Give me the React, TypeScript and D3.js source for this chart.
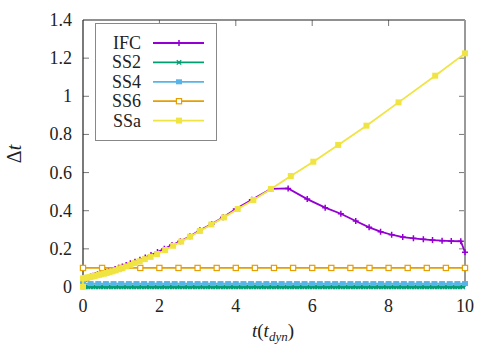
import React from "react";
import * as d3 from "d3";

// ---------- data ----------
const X_TICKS = [0, 2, 4, 6, 8, 10];
const Y_TICKS = [0, 0.2, 0.4, 0.6, 0.8, 1, 1.2, 1.4];

const IFC_T = [0, 0.005, 0.03, 0.06, 0.10, 0.15, 0.20, 0.26, 0.32, 0.38, 0.45, 0.52, 0.59, 0.67, 0.75, 0.84, 0.93, 1.03, 1.13, 1.24, 1.36, 1.49, 1.63, 1.78, 1.95, 2.13, 2.33, 2.55, 2.80, 3.06, 3.37, 3.67, 4.00, 4.42, 4.92, 5.37, 5.87, 6.34, 6.75, 7.14, 7.49, 7.79, 8.08, 8.37, 8.65, 8.91, 9.15, 9.40, 9.64, 9.89, 10];
const IFC_DT = [0.004, 0.030, 0.035, 0.040, 0.045, 0.050, 0.055, 0.059, 0.063, 0.067, 0.071, 0.075, 0.079, 0.084, 0.089, 0.095, 0.101, 0.108, 0.116, 0.124, 0.133, 0.143, 0.155, 0.168, 0.183, 0.200, 0.220, 0.240, 0.266, 0.298, 0.330, 0.366, 0.409, 0.458, 0.514, 0.517, 0.461, 0.416, 0.384, 0.346, 0.313, 0.290, 0.274, 0.262, 0.255, 0.250, 0.246, 0.243, 0.241, 0.240, 0.182];

const SSA_T = [0, 0.001, 0.046, 0.093, 0.142, 0.193, 0.246, 0.301, 0.359, 0.42, 0.484, 0.551, 0.621, 0.695, 0.773, 0.855, 0.942, 1.035, 1.135, 1.243, 1.36, 1.485, 1.62, 1.77, 1.94, 2.15, 2.36, 2.57, 2.80, 3.06, 3.36, 3.69, 4.05, 4.46, 4.92, 5.44, 6.03, 6.68, 7.42, 8.26, 9.22, 10];
const SSA_DT = [0.001, 0.045, 0.047, 0.049, 0.051, 0.053, 0.055, 0.058, 0.061, 0.064, 0.067, 0.070, 0.074, 0.078, 0.082, 0.087, 0.093, 0.100, 0.108, 0.116, 0.125, 0.135, 0.146, 0.158, 0.173, 0.194, 0.216, 0.238, 0.264, 0.294, 0.328, 0.365, 0.409, 0.456, 0.514, 0.582, 0.657, 0.745, 0.846, 0.968, 1.108, 1.225];

// fixed-step schemes: constant step size and the spacing of the plotted markers
const SS2_DT = 0.0005;
const SS4_DT = 0.018;
const SS6_DT = 0.1;
const SS2_MARK_EVERY = 0.0667;
const SS4_MARK_EVERY = 0.2;
const SS6_MARK_EVERY = 0.5;
const T_END = 10;

const SERIES_NAMES = ["IFC", "SS2", "SS4", "SS6", "SSa"];
const COLORS = ["#9400d3", "#009e73", "#56b4e9", "#e69f00", "#f0e442"];

// ---------- layout ----------
const W = 500, H = 350;
const X0 = 83, X1 = 465, Y0 = 287, Y1 = 20;
const FONT = "'Liberation Serif', 'DejaVu Serif', 'Times New Roman', Times, serif";
const TXT = { fontFamily: FONT };

type Pt = [number, number];

function Marker({ kind, x, y, color }: { kind: string; x: number; y: number; color: string }) {
  const s = 3;
  if (kind === "plus")
    return <path d={`M${x - s},${y}H${x + s}M${x},${y - s}V${y + s}`} stroke={color} strokeWidth={1.5} fill="none" />;
  if (kind === "cross")
    return <path d={`M${x - 2.2},${y - 2.2}L${x + 2.2},${y + 2.2}M${x - 2.2},${y + 2.2}L${x + 2.2},${y - 2.2}`} stroke={color} strokeWidth={1.3} fill="none" />;
  if (kind === "fsq")
    return <rect x={x - 3} y={y - 2.5} width={6} height={5} fill={color} />;
  if (kind === "osq")
    return <rect x={x - 2.6} y={y - 2.6} width={5.2} height={5.2} fill="white" stroke={color} strokeWidth={1.2} />;
  if (kind === "ysq")
    return <rect x={x - 3} y={y - 3} width={6} height={6} fill={color} />;
  return null;
}

export default function App() {
  const x = d3.scaleLinear().domain([0, 10]).range([X0, X1]);
  const y = d3.scaleLinear().domain([0, 1.4]).range([Y0, Y1]);
  const line = d3.line<Pt>().x((d) => x(d[0])).y((d) => y(d[1]));

  const ifc: Pt[] = IFC_T.map((t, i) => [t, IFC_DT[i]]);
  const ssa: Pt[] = SSA_T.map((t, i) => [t, SSA_DT[i]]);
  const constPts = (dt: number, every: number): Pt[] =>
    d3.range(0, T_END + 1e-9, every).map((t) => [t, dt] as Pt);
  const ss2m = constPts(SS2_DT, SS2_MARK_EVERY);
  const ss4m = constPts(SS4_DT, SS4_MARK_EVERY);
  const ss6m = constPts(SS6_DT, SS6_MARK_EVERY);

  const kinds = ["plus", "cross", "fsq", "osq", "ysq"];
  const legendRows = [43, 62.4, 81.8, 101.2, 120.6];

  return (
    <svg width={W} height={H} style={{ position: "absolute", left: 0, top: 0, background: "white" }}>
      {/* ticks */}
      {Y_TICKS.map((v) => (
        <g key={"yt" + v}>
          {v > 0 && v < 1.4 && <line x1={X0} x2={X0 + 6} y1={y(v)} y2={y(v)} stroke="#777" strokeWidth={1} />}
          {v > 0 && v < 1.4 && <line x1={X1 - 6} x2={X1} y1={y(v)} y2={y(v)} stroke="#777" strokeWidth={1} />}
          <text x={72} y={y(v) + 6} textAnchor="end" fontSize={18} fill="#222" style={TXT}>{String(v)}</text>
        </g>
      ))}
      {X_TICKS.map((v) => (
        <g key={"xt" + v}>
          {v > 0 && v < 10 && <line x1={x(v)} x2={x(v)} y1={Y1} y2={Y1 + 6} stroke="#777" strokeWidth={1} />}
          {v > 0 && v < 10 && <line x1={x(v)} x2={x(v)} y1={Y0} y2={Y0 - 6} stroke="#777" strokeWidth={1} />}
          <text x={x(v)} y={312} textAnchor="middle" fontSize={18} fill="#222" style={TXT}>{String(v)}</text>
        </g>
      ))}

      {/* frame */}
      <line x1={X0} x2={X1} y1={Y1} y2={Y1} stroke="#222" strokeWidth={1.2} />
      <line x1={X0} x2={X0} y1={Y1} y2={Y0} stroke="#222" strokeWidth={1.2} />
      <line x1={X0} x2={X1} y1={Y0} y2={Y0} stroke="#222" strokeWidth={1.2} />
      <line x1={X1} x2={X1} y1={Y1} y2={Y0} stroke="#999" strokeWidth={2} />

      {/* IFC */}
      <path d={line(ifc) || ""} fill="none" stroke={COLORS[0]} strokeWidth={1.8} />
      {ifc.map((p, i) => <Marker key={"i" + i} kind="plus" x={x(p[0])} y={y(p[1])} color={COLORS[0]} />)}

      {/* SS2 */}
      <path d={line([[0, SS2_DT], [T_END, SS2_DT]]) || ""} fill="none" stroke={COLORS[1]} strokeWidth={1.8} />
      {ss2m.map((p, i) => <Marker key={"a" + i} kind="cross" x={x(p[0])} y={y(p[1])} color={COLORS[1]} />)}

      {/* SS4 */}
      <path d={line([[0, SS4_DT], [T_END, SS4_DT]]) || ""} fill="none" stroke={COLORS[2]} strokeWidth={1.8} />
      {ss4m.map((p, i) => <Marker key={"b" + i} kind="fsq" x={x(p[0])} y={y(p[1])} color={COLORS[2]} />)}

      {/* SS6 */}
      <path d={line([[0, SS6_DT], [T_END, SS6_DT]]) || ""} fill="none" stroke={COLORS[3]} strokeWidth={1.8} />
      {ss6m.map((p, i) => <Marker key={"c" + i} kind="osq" x={x(p[0])} y={y(p[1])} color={COLORS[3]} />)}

      {/* SSa */}
      <path d={line(ssa) || ""} fill="none" stroke={COLORS[4]} strokeWidth={1.8} />
      {ssa.map((p, i) => <Marker key={"d" + i} kind="ysq" x={x(p[0])} y={y(p[1])} color={COLORS[4]} />)}

      {/* legend */}
      <rect x={95.5} y={23.5} width={121} height={117} fill="white" stroke="#888" strokeWidth={1} />
      {SERIES_NAMES.map((n, i) => (
        <g key={"l" + n}>
          <text x={141} y={legendRows[i] + 6} textAnchor="end" fontSize={18} fill="#222" style={TXT}>{n}</text>
          <line x1={153} x2={204} y1={legendRows[i]} y2={legendRows[i]} stroke={COLORS[i]} strokeWidth={1.8} />
          <Marker kind={kinds[i]} x={179} y={legendRows[i]} color={COLORS[i]} />
        </g>
      ))}

      {/* axis titles */}
      <text transform="translate(21,154) rotate(-90)" textAnchor="middle" fontSize={20} fill="#222" style={TXT}>
        <tspan>Δ</tspan><tspan fontStyle="italic">t</tspan>
      </text>
      <text x={273} y={337} textAnchor="middle" fontSize={19} fill="#222" style={TXT}>
        <tspan fontStyle="italic">t</tspan>
        <tspan>(</tspan>
        <tspan fontStyle="italic">t</tspan>
        <tspan fontStyle="italic" fontSize={13} dy={4}>dyn</tspan>
        <tspan dy={-4}>)</tspan>
      </text>
    </svg>
  );
}
